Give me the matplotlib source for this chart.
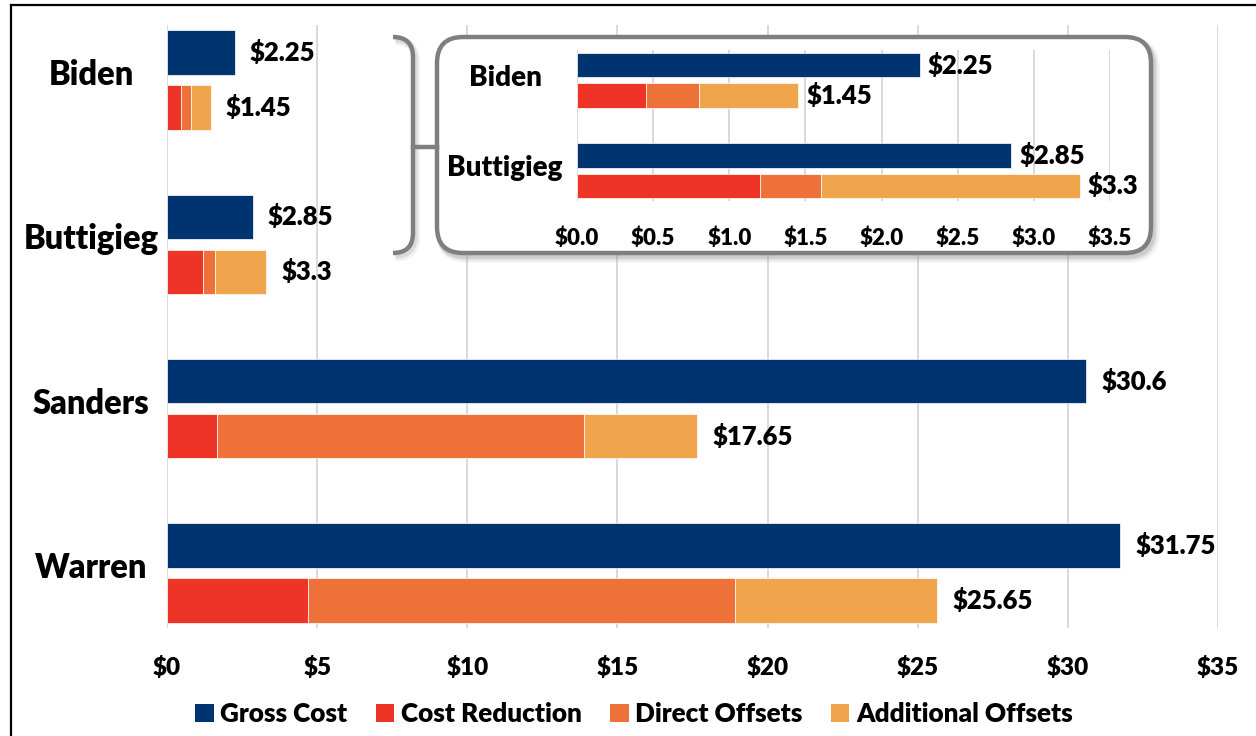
import matplotlib
matplotlib.use("Agg")
import matplotlib.pyplot as plt
from matplotlib.patches import FancyBboxPatch, Patch, PathPatch
from matplotlib.path import Path
from matplotlib.lines import Line2D
from matplotlib.transforms import Affine2D, blended_transform_factory
from matplotlib.ticker import FuncFormatter

# ---------------- data ----------------
candidates = ["Biden", "Buttigieg", "Sanders", "Warren"]
gross_cost = [2.25, 2.85, 30.6, 31.75]
cost_reduction = [0.45, 1.2, 1.65, 4.7]
direct_offsets = [0.35, 0.4, 12.25, 14.2]
additional_offsets = [0.65, 1.7, 3.75, 6.75]
series_names = ["Gross Cost", "Cost Reduction", "Direct Offsets", "Additional Offsets"]
main_ticks = [0, 5, 10, 15, 20, 25, 30, 35]
inset_ticks = [0.0, 0.5, 1.0, 1.5, 2.0, 2.5, 3.0, 3.5]
inset_candidates = ["Biden", "Buttigieg"]

# ---------------- style ----------------
colors = ["#003470", "#EE3426", "#EE7139", "#F0A54C"]
FAM = "Lato"
WT = 800
plt.rcParams["font.family"] = FAM
plt.rcParams["font.weight"] = WT

W, H = 1256, 736
fig = plt.figure(figsize=(W / 100, H / 100), dpi=100)
pix = Affine2D().scale(1 / W, -1 / H).translate(0, 1) + fig.transFigure


def draw_panel(ax, names, xmax, ticks, fmt, cat_fs, val_fs, tick_fs, lab_x, val_pad, tick_pad):
    n = len(names)
    idx = [candidates.index(c) for c in names]
    y = list(range(n))
    bh, off = 0.27, 0.168
    g = [gross_cost[i] for i in idx]
    r = [cost_reduction[i] for i in idx]
    d = [direct_offsets[i] for i in idx]
    a = [additional_offsets[i] for i in idx]
    kw = dict(height=bh, zorder=3, edgecolor="white", linewidth=0.5)
    ax.barh([v - off for v in y], g, color=colors[0], **kw)
    ax.barh([v + off for v in y], r, color=colors[1], **kw)
    ax.barh([v + off for v in y], d, left=r, color=colors[2], **kw)
    left2 = [ri + di for ri, di in zip(r, d)]
    ax.barh([v + off for v in y], a, left=left2, color=colors[3], **kw)
    for k in range(n):
        tot = round(r[k] + d[k] + a[k], 2)
        ax.annotate(f"${g[k]:g}", (g[k], y[k] - off), xytext=(val_pad, 0),
                    textcoords="offset points", va="center", ha="left",
                    fontsize=val_fs, fontweight=WT, family=FAM)
        ax.annotate(f"${tot:g}", (tot, y[k] + off), xytext=(val_pad, 0),
                    textcoords="offset points", va="center", ha="left",
                    fontsize=val_fs, fontweight=WT, family=FAM)
    tr = blended_transform_factory(ax.transAxes, ax.transData)
    for k in range(n):
        ax.text(lab_x, y[k] - 0.03, names[k], transform=tr, ha="center", va="center",
                fontsize=cat_fs, fontweight=WT, family=FAM)
    ax.set_xlim(0, xmax)
    ax.set_ylim(n - 1 + 0.335, -0.335)
    ax.set_yticks([])
    ax.set_xticks(ticks)
    ax.xaxis.set_major_formatter(FuncFormatter(fmt))
    ax.tick_params(axis="x", length=0, pad=tick_pad, labelsize=tick_fs)
    for t in ax.get_xticklabels():
        t.set_fontweight(WT)
        t.set_family(FAM)
    ax.grid(axis="x", color="#d9d9d9", linewidth=1.4, zorder=0)
    ax.set_axisbelow(True)
    for s in ax.spines.values():
        s.set_visible(False)


# main axes
ax = fig.add_axes([167 / W, 1 - 628 / H, 1051 / W, 603 / H], zorder=0)
draw_panel(ax, candidates, 35, main_ticks, lambda v, p: f"${v:.0f}",
           cat_fs=23.5, val_fs=18.5, tick_fs=17.5, lab_x=-0.072, val_pad=11, tick_pad=20)

# shadow + inset box
for dx, dy, lw, al in [(4, 5, 7, 0.10), (3, 4, 5, 0.18), (2, 3, 4, 0.25)]:
    sh = FancyBboxPatch((437 + dx, 37 + dy), 714, 216, boxstyle="round,pad=0,rounding_size=26",
                        transform=pix, facecolor="none", edgecolor="#909090", linewidth=lw,
                        alpha=al, zorder=1)
    fig.patches.append(sh)
box = FancyBboxPatch((437, 37), 714, 216, boxstyle="round,pad=0,rounding_size=26",
                     transform=pix, facecolor="white", edgecolor="#7f7f7f", linewidth=3.2, zorder=1.1)
fig.patches.append(box)

# bracket
verts = [(393, 37), (413, 37), (413, 57), (413, 233), (413, 253), (393, 253)]
codes = [Path.MOVETO, Path.CURVE3, Path.CURVE3, Path.LINETO, Path.CURVE3, Path.CURVE3]
for dx, dy, lw, al in [(3, 4, 6, 0.12), (2, 3, 4, 0.22)]:
    vs = [(x + dx, y + dy) for x, y in verts]
    fig.patches.append(PathPatch(Path(vs, codes), transform=pix, facecolor="none",
                                 edgecolor="#909090", linewidth=lw, alpha=al, zorder=1))
fig.patches.append(PathPatch(Path(verts, codes), transform=pix, facecolor="none",
                             edgecolor="#7f7f7f", linewidth=3.2, zorder=1.2))
fig.lines.append(Line2D([413, 437], [147, 147], transform=pix, color="#7f7f7f",
                        linewidth=3.2, zorder=1.2))

# inset axes
axi = fig.add_axes([577 / W, 1 - 201 / H, 533 / W, 151 / H], zorder=2)
axi.set_facecolor("none")
draw_panel(axi, inset_candidates, 3.5, inset_ticks, lambda v, p: f"${v:.1f}",
           cat_fs=20, val_fs=18.5, tick_fs=16, lab_x=-0.135, val_pad=6, tick_pad=19)

# legend
handles = [Patch(facecolor=c, edgecolor="none") for c in colors]
leg = fig.legend(handles, series_names, loc="center", bbox_to_anchor=(634 / W, 1 - 714 / H),
                 ncol=4, frameon=False, handlelength=0.7, handleheight=0.7,
                 handletextpad=0.25, columnspacing=1.1, borderaxespad=0,
                 prop={"family": FAM, "weight": WT, "size": 18.8})

# outer frame (left and top edge)
fig.lines.append(Line2D([11, W], [5, 5], transform=pix, color="black", linewidth=1.6))
fig.lines.append(Line2D([11, 11], [5, H], transform=pix, color="black", linewidth=1.6))

fig.savefig("out.png", dpi=100)
